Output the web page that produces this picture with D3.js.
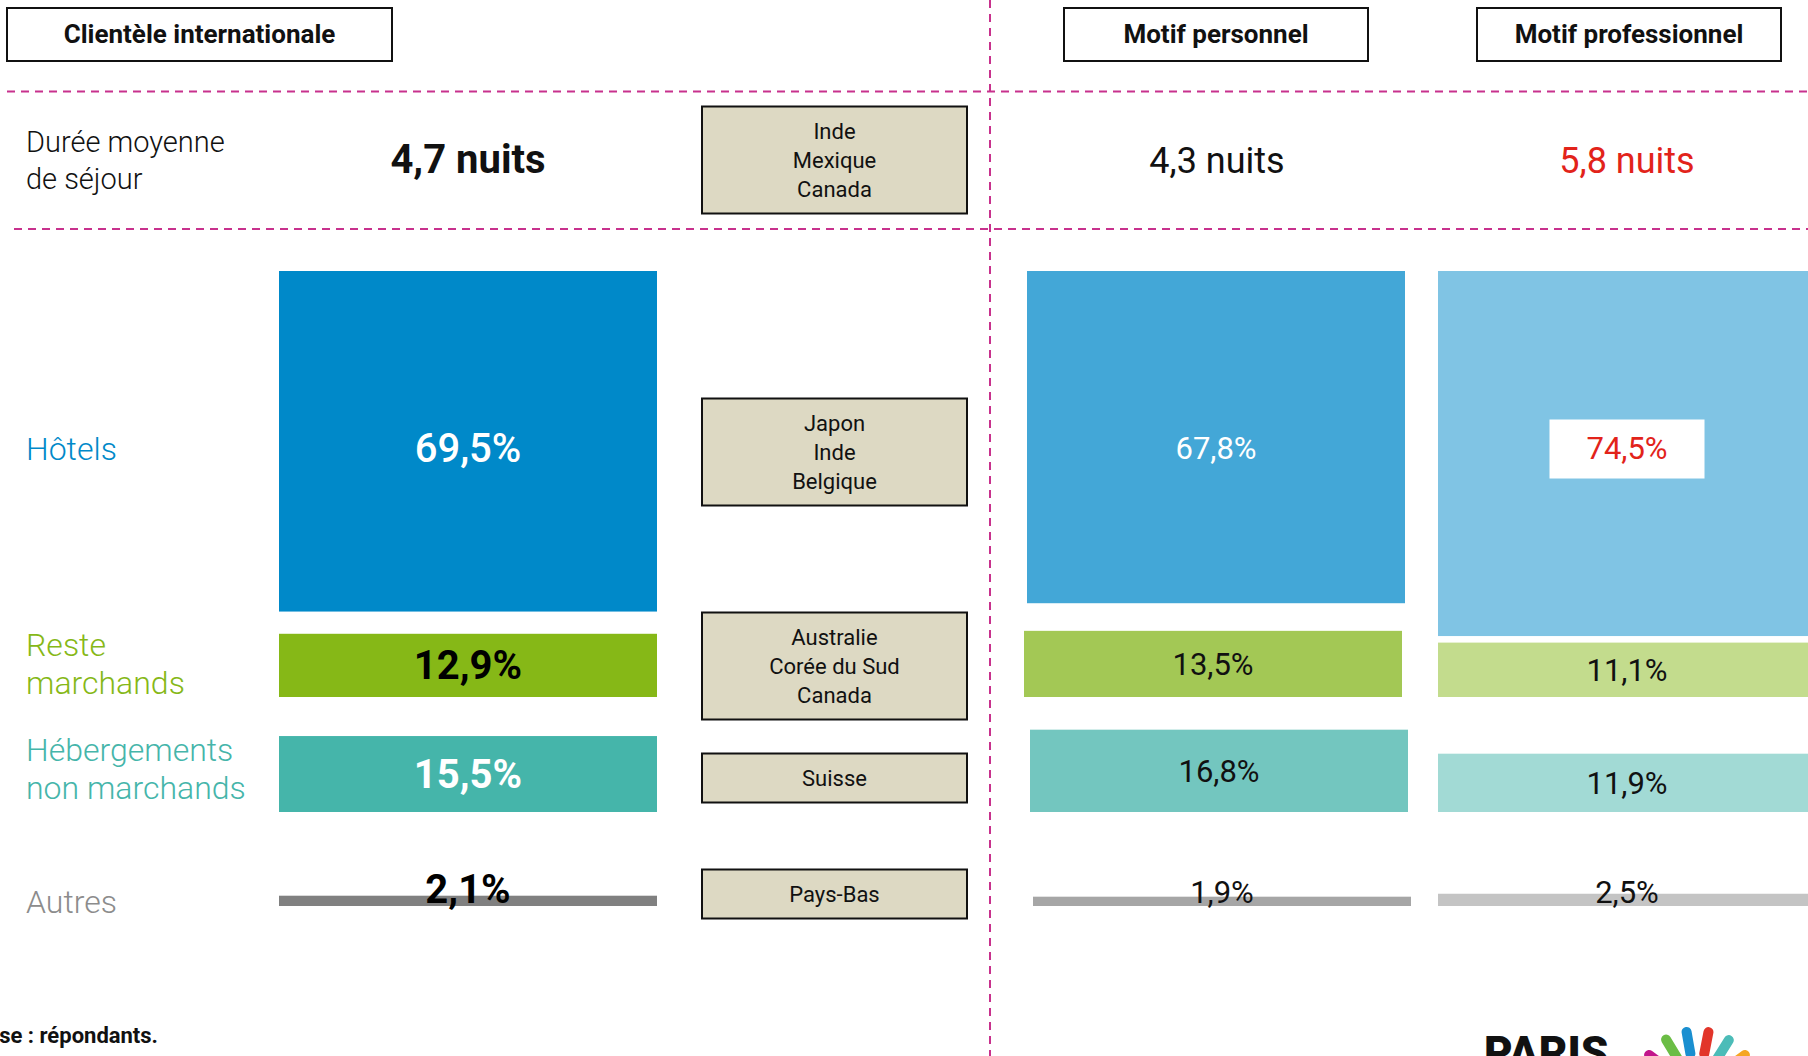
<!DOCTYPE html>
<html>
<head>
<meta charset="utf-8">
<script src="https://cdn.jsdelivr.net/npm/d3@7"></script>
<style>
  html, body { margin: 0; padding: 0; background: #fff; }
  svg { display: block; font-family: Roboto, "Noto Sans", sans-serif; }
</style>
</head>
<body>
<svg id="chart" width="1808" height="1056"></svg>
<script>
// ---------------- DATA ----------------
const groups = ["Clientèle internationale", "Motif personnel", "Motif professionnel"];
const categories = ["Hôtels", "Reste marchands", "Hébergements non marchands", "Autres"];
const categoryLines = [["Hôtels"], ["Reste", "marchands"], ["Hébergements", "non marchands"], ["Autres"]];
const valuesInternationale = [69.5, 12.9, 15.5, 2.1];
const valuesPersonnel = [67.8, 13.5, 16.8, 1.9];
const valuesProfessionnel = [74.5, 11.1, 11.9, 2.5];
const durations = [4.7, 4.3, 5.8];
const durationLabel = ["Durée moyenne", "de séjour"];
const topCountries = [
  ["Inde", "Mexique", "Canada"],
  ["Japon", "Inde", "Belgique"],
  ["Australie", "Corée du Sud", "Canada"],
  ["Suisse"],
  ["Pays-Bas"]
];
const footnote = "Base : répondants.";

// ---------------- STYLE / LAYOUT ----------------
const series = [valuesInternationale, valuesPersonnel, valuesProfessionnel];
const palette = [
  ["#0089c9", "#86b817", "#45b5aa", "#808080"],
  ["#43a7d7", "#a3c855", "#73c6bf", "#a6a6a6"],
  ["#80c4e4", "#c3dc8d", "#a2dad5", "#c4c4c4"]
];
const labelColors = [
  ["#ffffff", "#000000", "#ffffff", "#000000"],
  ["#ffffff", "#111111", "#111111", "#111111"],
  ["#e2231a", "#111111", "#111111", "#111111"]
];
const catColors = ["#0089c9", "#86b817", "#45b5aa", "#8c8c8c"];
const red = "#e2231a";
const magenta = "#c8318d";

const colX = [279, 1027, 1438];
const colShift = [[0, 0, 0, 0], [0, -3, 3, 6], [0, 0, 0, 0]];
const barW = 378;
const hotelTop = 271;
const rowBottoms = [null, 697, 812, 906];
const hotelLabelY = 448;
const catLabelCenters = [448, 663, 768, 901];
const countryCenters = [160, 452, 666, 778, 894];

const svg = d3.select("#chart");
const fr = d3.formatLocale({decimal: ",", thousands: " ", grouping: [3], currency: ["", "€"]});
const fmt = fr.format(".1f");

// height scale (percent -> px)
const h = d3.scaleLinear().domain([0, 100]).range([0, 490]);

// ---------- dashed separators ----------
const dash = svg.append("g").attr("stroke", magenta).attr("stroke-width", 2).attr("stroke-dasharray", "8,6");
dash.append("line").attr("x1", 7).attr("x2", 1808).attr("y1", 91.5).attr("y2", 91.5);
dash.append("line").attr("x1", 14).attr("x2", 1808).attr("y1", 229).attr("y2", 229);
dash.append("line").attr("x1", 990).attr("x2", 990).attr("y1", 0).attr("y2", 1056);

// ---------- header boxes ----------
const headerBoxes = [
  {x: 7, w: 385}, {x: 1064, w: 304}, {x: 1477, w: 304}
];
groups.forEach((g, i) => {
  const b = headerBoxes[i];
  svg.append("rect").attr("x", b.x).attr("y", 8).attr("width", b.w).attr("height", 53)
    .attr("fill", "#fff").attr("stroke", "#111").attr("stroke-width", 2);
  svg.append("text").attr("x", b.x + b.w / 2).attr("y", 43).attr("text-anchor", "middle")
    .attr("font-size", 26).attr("font-weight", 700).attr("fill", "#111").text(g);
});

// ---------- duration row ----------
durationLabel.forEach((t, i) => {
  svg.append("text").attr("x", 26).attr("y", 152 + i * 37).attr("font-size", 29)
    .attr("font-weight", 300).attr("fill", "#111").text(t);
});
const colCenters = colX.map(x => x + barW / 2);
durations.forEach((d, i) => {
  svg.append("text").attr("x", colCenters[i] + (i === 1 ? 1 : 0)).attr("y", 173)
    .attr("text-anchor", "middle")
    .attr("font-size", i === 0 ? 40 : 36)
    .attr("font-weight", i === 0 ? 700 : 400)
    .attr("fill", i === 2 ? red : "#111")
    .text(fmt(d) + " nuits");
});

// ---------- category labels ----------
categoryLines.forEach((lines, r) => {
  const c = catLabelCenters[r];
  const lh = 38;
  lines.forEach((t, k) => {
    const yb = c + (k - (lines.length - 1) / 2) * lh + 11.5;
    svg.append("text").attr("x", 26).attr("y", yb).attr("font-size", 32)
      .attr("font-weight", 300).attr("fill", catColors[r]).text(t);
  });
});

// ---------- bars ----------
series.forEach((vals, gi) => {
  const g = svg.append("g");
  vals.forEach((v, r) => {
    const hh = h(v);
    const y = r === 0 ? hotelTop : rowBottoms[r] - hh;
    const x = colX[gi] + colShift[gi][r];
    g.append("rect").attr("x", x).attr("y", y).attr("width", barW).attr("height", hh)
      .attr("fill", palette[gi][r]);
    const cx = x + barW / 2;
    const fs = gi === 0 ? 40 : 31;
    let yb;
    if (r === 0) yb = hotelLabelY + fs * 0.35;
    else if (r === 3) yb = rowBottoms[r] - 3;
    else yb = y + hh / 2 + fs * 0.35;
    if (gi === 2 && r === 0) {
      g.append("rect").attr("x", cx - 77.5).attr("y", hotelLabelY - 28.5)
        .attr("width", 155).attr("height", 59).attr("fill", "#fff");
    }
    g.append("text").attr("x", cx).attr("y", yb).attr("text-anchor", "middle")
      .attr("font-size", fs).attr("font-weight", gi === 0 ? (r === 0 ? 500 : 700) : 400)
      .attr("fill", labelColors[gi][r]).text(fmt(v) + "%");
  });
});

// ---------- top countries boxes ----------
const cbX = 702, cbW = 265, lineH = 28.7;
topCountries.forEach((list, i) => {
  const n = list.length;
  const bh = n * 29 + 20;
  const c = countryCenters[i];
  svg.append("rect").attr("x", cbX).attr("y", c - bh / 2).attr("width", cbW).attr("height", bh)
    .attr("fill", "#ddd9c3").attr("stroke", "#111").attr("stroke-width", 2);
  list.forEach((t, k) => {
    svg.append("text").attr("x", cbX + cbW / 2).attr("y", c + (k - (n - 1) / 2) * lineH + 8)
      .attr("text-anchor", "middle").attr("font-size", 22).attr("fill", "#111").text(t);
  });
});

// ---------- footnote ----------
svg.append("text").attr("x", 158).attr("y", 1043).attr("text-anchor", "end")
  .attr("font-size", 22).attr("font-weight", 700).attr("fill", "#111").text(footnote);

// ---------- logo (partially cropped) ----------
svg.append("text").attr("x", 1484).attr("y", 1068).attr("font-size", 44)
  .attr("font-weight", 900).attr("fill", "#111").text("PARIS");
const rayColors = ["#c2168c", "#6bbd45", "#1a8fd0", "#e2352a", "#4cbcb8", "#f5a623"];
const rayAngles = [-53, -31, -10, 11, 32, 53];
const fc = {x: 1697, y: 1091};
rayColors.forEach((col, i) => {
  const a = rayAngles[i] * Math.PI / 180;
  svg.append("line")
    .attr("x1", fc.x + Math.sin(a) * 38).attr("y1", fc.y - Math.cos(a) * 38)
    .attr("x2", fc.x + Math.sin(a) * 60).attr("y2", fc.y - Math.cos(a) * 60)
    .attr("stroke", col).attr("stroke-width", 10).attr("stroke-linecap", "round");
});
</script>
</body>
</html>
